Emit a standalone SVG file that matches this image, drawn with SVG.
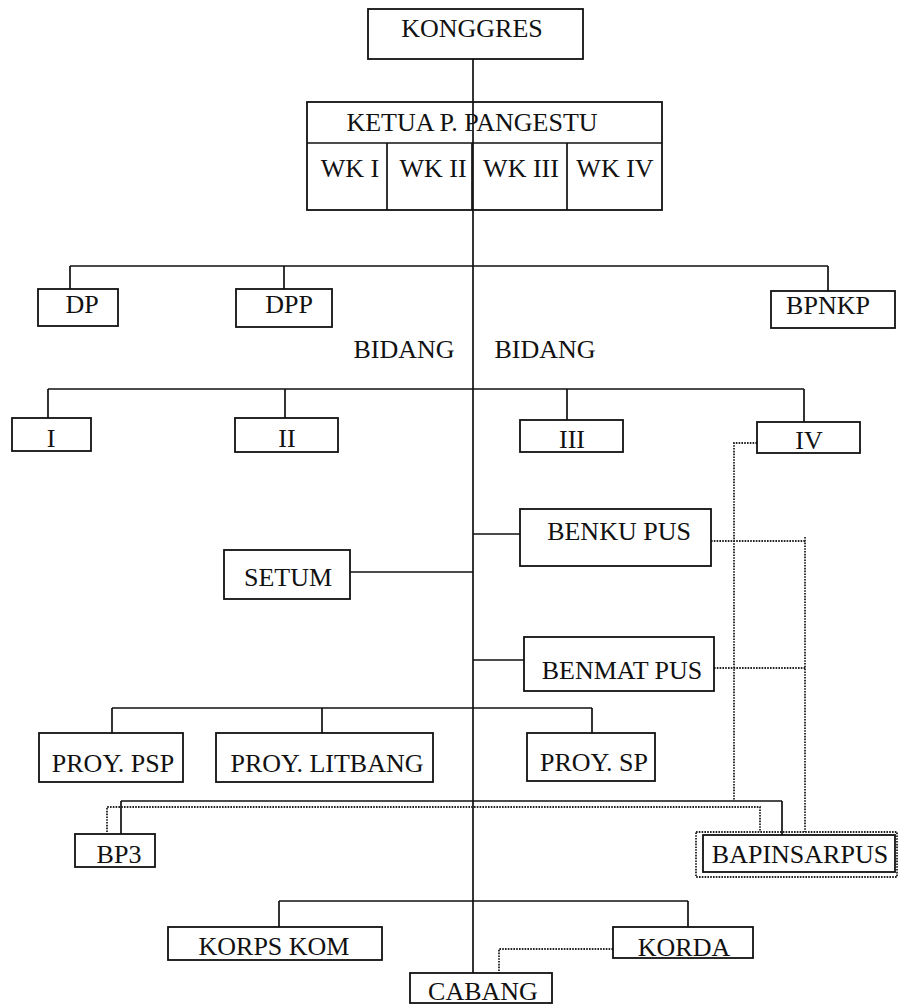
<svg xmlns="http://www.w3.org/2000/svg" width="898" height="1006" viewBox="0 0 898 1006">
<style>
.box{fill:none;stroke:#111;stroke-width:1.8}
.t{font-family:"Liberation Serif","Times New Roman","DejaVu Serif",serif;font-size:26px;fill:#111;text-anchor:middle}
.ln{fill:none;stroke:#111;stroke-width:1.7}
.dt{fill:none;stroke:#222;stroke-width:1.8;stroke-dasharray:1.6 1.2}
</style>
<rect width="898" height="1006" fill="#fff"/>
<g id="connectors">
<path class="ln" d="M473,59 V973"/>
<path class="ln" d="M70,266 H828 M70,266 V289 M284,266 V289 M828,266 V291"/>
<path class="ln" d="M48,389 H804 M48,389 V418 M285,389 V418 M567,389 V420 M804,389 V422"/>
<path class="ln" d="M473,534 H520 M350,572 H473 M473,660 H524"/>
<path class="ln" d="M112,708 H592 M112,708 V733 M322,708 V733 M592,708 V733"/>
<path class="ln" d="M121,801 H782 M121,801 V834 M782,801 V835"/>
<path class="ln" d="M279,901 H688 M279,901 V927 M688,901 V927"/>
<path class="dt" d="M757,443 H734 V800"/>
<path class="dt" d="M711,541 H805 M714,668 H805 M805,537 V832"/>
<path class="dt" d="M107,832 V807 H760 V832"/>
<path class="dt" d="M613,949 H499 V973"/>
</g>
<g id="konggres"><rect class="box" x="368" y="9" width="215" height="50"/><text class="t" x="472" y="37">KONGGRES</text></g>
<g id="ketua">
<rect class="box" x="307" y="102" width="355" height="108"/>
<path class="ln" d="M307,143 H662 M387,143 V210 M472,143 V210 M567,143 V210"/>
<text class="t" x="472" y="131">KETUA P. PANGESTU</text>
<text class="t" x="350" y="177">WK I</text>
<text class="t" x="433" y="177">WK II</text>
<text class="t" x="521" y="177">WK III</text>
<text class="t" x="615" y="177">WK IV</text>
</g>
<g id="dp"><rect class="box" x="38" y="289" width="80" height="37"/><text class="t" x="82" y="313">DP</text></g>
<g id="dpp"><rect class="box" x="236" y="289" width="96" height="38"/><text class="t" x="289" y="313">DPP</text></g>
<g id="bpnkp"><rect class="box" x="771" y="291" width="124" height="37"/><text class="t" x="828" y="314">BPNKP</text></g>
<g id="bidang-labels"><text class="t" x="404" y="358">BIDANG</text><text class="t" x="545" y="358">BIDANG</text></g>
<g id="bidang-i"><rect class="box" x="12" y="418" width="79" height="33"/><text class="t" x="51" y="447">I</text></g>
<g id="bidang-ii"><rect class="box" x="235" y="418" width="103" height="34"/><text class="t" x="287" y="447">II</text></g>
<g id="bidang-iii"><rect class="box" x="520" y="420" width="103" height="32"/><text class="t" x="572" y="448">III</text></g>
<g id="bidang-iv"><rect class="box" x="757" y="422" width="103" height="31"/><text class="t" x="809" y="449">IV</text></g>
<g id="benku-pus"><rect class="box" x="520" y="509" width="191" height="57"/><text class="t" x="619" y="540">BENKU PUS</text></g>
<g id="setum"><rect class="box" x="224" y="550" width="126" height="49"/><text class="t" x="288" y="586">SETUM</text></g>
<g id="benmat-pus"><rect class="box" x="524" y="637" width="190" height="54"/><text class="t" x="622" y="679">BENMAT PUS</text></g>
<g id="proy-psp"><rect class="box" x="39" y="733" width="144" height="49"/><text class="t" x="113" y="772">PROY. PSP</text></g>
<g id="proy-litbang"><rect class="box" x="216" y="733" width="217" height="49"/><text class="t" x="327" y="772">PROY. LITBANG</text></g>
<g id="proy-sp"><rect class="box" x="527" y="733" width="128" height="48"/><text class="t" x="594" y="771">PROY. SP</text></g>
<g id="bp3"><rect class="box" x="75" y="834" width="80" height="33"/><text class="t" x="119" y="863">BP3</text></g>
<g id="bapinsarpus"><rect class="dt" x="696" y="832" width="201" height="45"/><rect class="box" x="703" y="835" width="192" height="37"/><text class="t" x="800" y="863">BAPINSARPUS</text></g>
<g id="korps-kom"><rect class="box" x="168" y="927" width="214" height="33"/><text class="t" x="274" y="955">KORPS KOM</text></g>
<g id="korda"><rect class="box" x="613" y="927" width="140" height="31"/><text class="t" x="684" y="956">KORDA</text></g>
<g id="cabang"><rect class="box" x="410" y="973" width="142" height="30"/><text class="t" x="483" y="1000">CABANG</text></g>
</svg>
